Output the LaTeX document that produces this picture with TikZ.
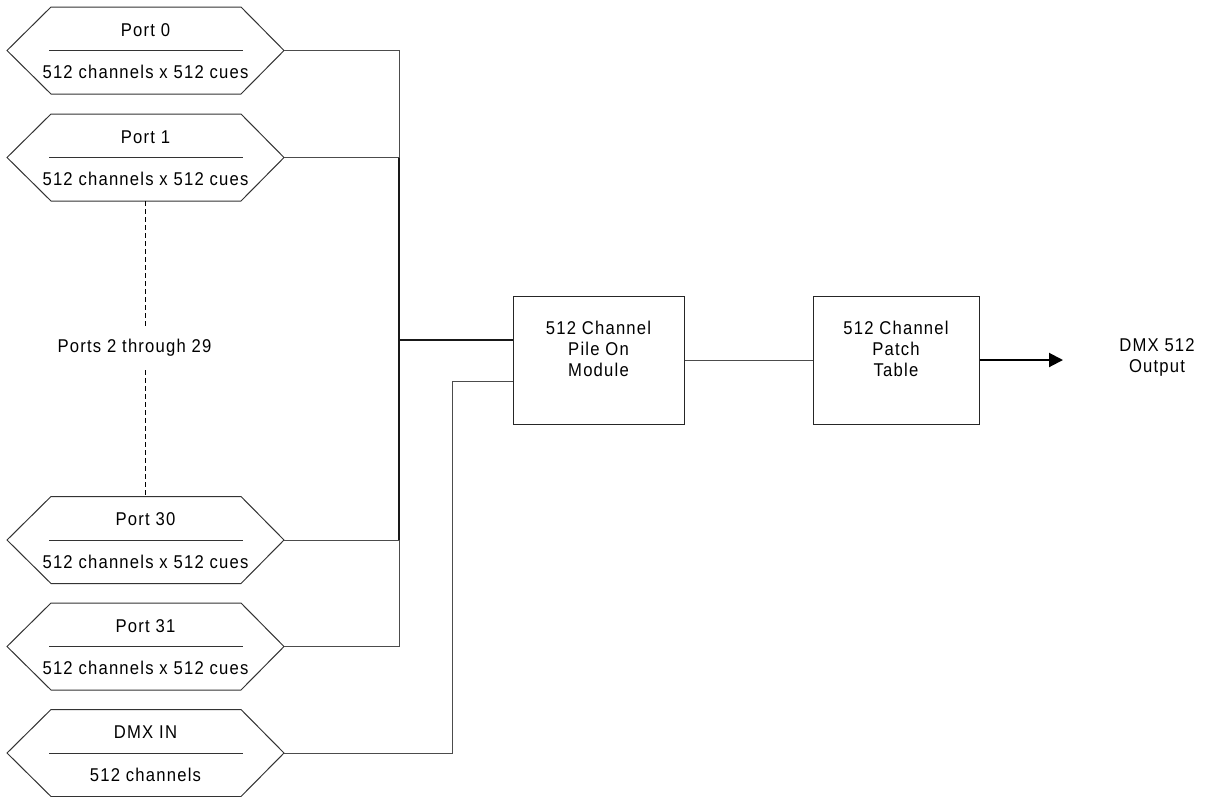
\documentclass[tikz,border=0pt]{standalone}
\usepackage{fontspec}
\setmainfont{Liberation Sans}[LetterSpace=6.5, FakeStretch=0.9]
\usetikzlibrary{calc,arrows.meta}

\tikzset{
  conn/.style={draw=black!70, line width=1pt},
  busline/.style={draw=black!90, line width=1.8pt},
  hexline/.style={draw=black!80, line width=1pt},
  portframe/.style={minimum width=277pt, minimum height=87pt, inner sep=0pt, outer sep=0pt},
  lbl/.style={font=\fontsize{18.5pt}{21pt}\selectfont, inner sep=0pt, align=center},
  block/.style={draw=black!85, line width=1pt, minimum height=128pt, inner sep=0pt},
  blocktext/.style={font=\fontsize{18.5pt}{21pt}\selectfont, inner sep=0pt, align=center},
  elided/.style={draw=black, line width=0.8pt, dash pattern=on 5pt off 3pt},
  outarrow/.style={draw=black, line width=2pt, -{Triangle[length=14pt,width=14pt]}},
}

% Hexagonal port symbol: name, centre y, title, contents
\newcommand\portsymbol[4]{%
  \node[portframe] (#1) at (145.5,#2) {};
  \draw[hexline] (#1.west) -- ([xshift=44pt]#1.north west) -- ([xshift=-43pt]#1.north east)
    -- (#1.east) -- ([xshift=-43pt]#1.south east) -- ([xshift=44pt]#1.south west) -- cycle;
  \draw[hexline] ([xshift=42pt]#1.west) -- ([xshift=-41pt]#1.east);
  \node[lbl] (#1-title) at ($(#1.center)+(0,-20.5)$) {#3};
  \node[lbl] (#1-sub) at ($(#1.center)+(0,21.5)$) {#4};
}

\begin{document}
\begin{tikzpicture}[x=1pt,y=-1pt]
  \useasboundingbox (0,0) rectangle (1206,796);

  \portsymbol{p0}{50.5}{Port 0}{512 channels x 512 cues}
  \portsymbol{p1}{157.5}{Port 1}{512 channels x 512 cues}
  \portsymbol{p30}{540}{Port 30}{512 channels x 512 cues}
  \portsymbol{p31}{646.5}{Port 31}{512 channels x 512 cues}
  \portsymbol{dmxin}{753}{DMX IN}{512 channels}

  % elided ports
  \node[lbl] (gap) at (134.5,347.5) {Ports 2 through 29};
  \coordinate (gap-top) at (145.5,327);
  \coordinate (gap-bottom) at (145.5,370);
  \draw[elided] (p1.south) -- (gap-top);
  \draw[elided] (gap-bottom) -- (p30.north);

  % processing blocks
  \node[block, minimum width=171pt] (pile) at (598.5,360) {};
  \node[blocktext] (pile-text) at ($(pile.center)+(0,-11)$) {512 Channel\\Pile On\\Module};
  \node[block, minimum width=166pt] (patch) at (896,360) {};
  \node[blocktext] (patch-text) at ($(patch.center)+(0,-11)$) {512 Channel\\Patch\\Table};
  \node[blocktext] (out) at (1157,357.5) {DMX 512\\Output};

  % port bus
  \coordinate (bus) at (399,340);
  \draw[conn] (p0.east) -- (p0.east -| bus) -- (p1.east -| bus);
  \draw[conn] (p1.east) -- (p1.east -| bus);
  \draw[conn] (p30.east) -- (p30.east -| bus);
  \draw[conn] (p31.east) -- (p31.east -| bus) -- (p30.east -| bus);
  \draw[busline] (p1.east -| bus) -- (p30.east -| bus);
  \draw[busline] (bus) -- (bus -| pile.west);

  % DMX input path
  \coordinate (dmxbend) at (452,381);
  \draw[conn] (dmxin.east) -| (dmxbend) -- (dmxbend -| pile.west);

  % chain to output
  \draw[conn] (pile.east) -- (patch.west);
  \coordinate (tip) at (1063,360);
  \draw[outarrow] (patch.east) -- (tip);
\end{tikzpicture}
\end{document}
